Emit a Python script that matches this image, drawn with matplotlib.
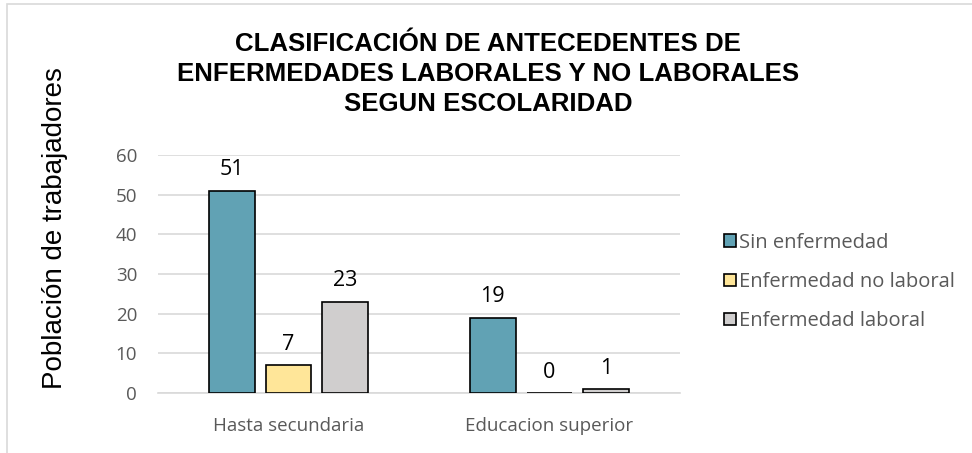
import numpy as np
import matplotlib.pyplot as plt
from matplotlib.patches import Rectangle

categories = ['Hasta secundaria', 'Educacion superior']
series_names = ['Sin enfermedad', 'Enfermedad no laboral', 'Enfermedad laboral']
sin_enfermedad = [51, 19]
no_laboral = [7, 0]
laboral = [23, 1]
colors = ['#61A2B4', '#FFE699', '#D0CECE']

fig = plt.figure(figsize=(9.72, 4.53), dpi=100)
ax = fig.add_axes([158 / 972, 1 - 393 / 453, (680 - 158) / 972, (393 - 155) / 453])

x = np.arange(len(categories))
width = 0.176
step = 0.218
for i, (vals, name) in enumerate(zip([sin_enfermedad, no_laboral, laboral], series_names)):
    pos = x + (i - 1) * step
    ax.bar(pos, vals, width, color=colors[i], edgecolor='black', linewidth=1.2,
           label=name, zorder=3)
    for p, v in zip(pos, vals):
        ax.text(p, v + 2.6, str(v), ha='center', va='bottom', fontsize=15.5,
                family='Open Sans', color='black')

ax.set_xlim(-0.5, 1.5)
ax.set_ylim(0, 60)
ax.set_yticks(range(0, 61, 10))
ax.yaxis.grid(True, color='#D9D9D9', linewidth=1.2, zorder=0)
for s in ax.spines.values():
    s.set_visible(False)
ax.spines['bottom'].set_visible(True)
ax.spines['bottom'].set_color('#D9D9D9')
ax.spines['bottom'].set_linewidth(1.2)
ax.tick_params(length=0, labelsize=13.5, labelcolor='#595959')
ax.tick_params(axis='y', pad=15)
ax.tick_params(axis='x', pad=17)
ax.set_xticks(x)
ax.set_xticklabels(categories, family='Open Sans')
for t in ax.get_yticklabels():
    t.set_family('Open Sans')

fig.text(55 / 972, 1 - 228 / 453, 'Población de trabajadores', rotation=90,
         ha='center', va='center', fontsize=20, family='Liberation Sans')

fig.text(488 / 972, 1 - 74 / 453,
         'CLASIFICACIÓN DE ANTECEDENTES DE\nENFERMEDADES LABORALES Y NO LABORALES\nSEGUN ESCOLARIDAD',
         ha='center', va='center', fontsize=18.6, fontweight='bold',
         family='Liberation Sans', linespacing=1.32)

leg = ax.legend(loc='center left', bbox_to_anchor=(706 / 972, 1 - 282 / 453),
                bbox_transform=fig.transFigure, frameon=False,
                handlelength=0.6, handleheight=0.6, handletextpad=0.15,
                labelspacing=0.95, prop={'family': 'Open Sans', 'size': 14.5})
for t in leg.get_texts():
    t.set_color('#595959')

fig.patches.append(Rectangle((7 / 972, -0.1), 1.2, 1 - 4 / 453 + 0.1,
                             transform=fig.transFigure, fill=False,
                             edgecolor='#D9D9D9', linewidth=1.2))

fig.savefig('out.png', dpi=100)
